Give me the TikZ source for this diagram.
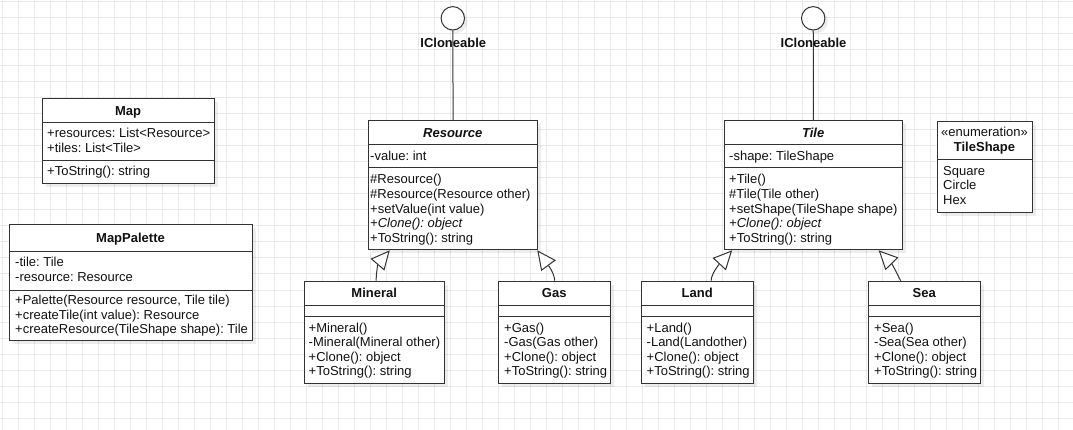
\documentclass[tikz,border=0pt]{standalone}
\usepackage{fontspec}
\setmainfont{Liberation Sans}
\usetikzlibrary{arrows.meta,shadows}
\definecolor{gridc}{HTML}{E9E9E9}
\definecolor{lc}{HTML}{333333}
\definecolor{tc}{HTML}{111111}
\newcommand\umlf{\fontsize{13pt}{15pt}\selectfont\frenchspacing}
\tikzset{
  cls/.style={draw=lc, line width=1pt, fill=white, anchor=north west, inner sep=0pt,
    drop shadow={shadow xshift=3.5pt, shadow yshift=-3.5pt, fill=black, opacity=0.07}},
  txt/.style={anchor=west, inner sep=0pt, text height=9.4pt, text depth=0pt, font=\umlf, text=tc},
  ttl/.style={inner sep=0pt, text height=9.4pt, text depth=0pt, font=\umlf\bfseries, text=tc},
  sep/.style={draw=lc, line width=1pt},
  gen/.style={draw=lc, line width=1pt, -{Triangle[fill=white, length=19pt, width=18pt]}},
  iface/.style={circle, draw=lc, line width=1pt, fill=white, minimum size=23.4pt, inner sep=0pt,
    drop shadow={shadow xshift=3pt, shadow yshift=-3pt, fill=black, opacity=0.07}},
  gridline/.style={draw=gridc, line width=1pt},
}
\begin{document}
\begin{tikzpicture}[x=1pt, y=-1pt]
\useasboundingbox (0,0) rectangle (1073,430);
\fill[white] (0,0) rectangle (1073,430);
% grid
\foreach \i in {0,...,66} \draw[gridline] (2+16*\i,0) -- (2+16*\i,430);
\foreach \j in {0,...,26} \draw[gridline] (0,2+16*\j) -- (1073,2+16*\j);

% ---------- Map ----------
\node[cls, minimum width=172pt, minimum height=85pt] (map) at (42,98) {};
\draw[sep] ([yshift=-25pt]map.north west) -- ([yshift=-25pt]map.north east);
\draw[sep] ([yshift=-63pt]map.north west) -- ([yshift=-63pt]map.north east);
\node[ttl] (mapT) at (128,110.7) {Map};
\node[txt] (mapA1) at (47,133.3) {+resources: List<Resource>};
\node[txt] (mapA2) at (47,148.3) {+tiles: List<Tile>};
\node[txt] (mapM1) at (47,171) {+ToString(): string};

% ---------- MapPalette ----------
\node[cls, minimum width=243pt, minimum height=116pt] (pal) at (9,224) {};
\draw[sep] ([yshift=-28pt]pal.north west) -- ([yshift=-28pt]pal.north east);
\draw[sep] ([yshift=-66pt]pal.north west) -- ([yshift=-66pt]pal.north east);
\node[ttl] (palT) at (130.5,238.3) {MapPalette};
\node[txt] (palA1) at (15,262.3) {-tile: Tile};
\node[txt] (palA2) at (15,276.7) {-resource: Resource};
\node[txt] (palM1) at (15,300) {+Palette(Resource resource, Tile tile)};
\node[txt] (palM2) at (15,314.3) {+createTile(int value): Resource};
\node[txt] (palM3) at (15,328.3) {+createResource(TileShape shape): Tile};

% ---------- Resource ----------
\node[cls, minimum width=169pt, minimum height=129.3pt] (resource) at (368.3,120) {};
\draw[sep] ([yshift=-24.3pt]resource.north west) -- ([yshift=-24.3pt]resource.north east);
\draw[sep] ([yshift=-47.7pt]resource.north west) -- ([yshift=-47.7pt]resource.north east);
\node[ttl] (resT) at (452.8,132.7) {\itshape Resource};
\node[txt] (resA1) at (370,155.7) {-value: int};
\node[txt] (resM1) at (370,179) {\#Resource()};
\node[txt] (resM2) at (370,194) {\#Resource(Resource other)};
\node[txt] (resM3) at (370,209) {+setValue(int value)};
\node[txt] (resM4) at (370,223.3) {\itshape +Clone(): object};
\node[txt] (resM5) at (370,238.3) {+ToString(): string};

% ---------- Tile ----------
\node[cls, minimum width=177.7pt, minimum height=129.3pt] (tile) at (724.3,120) {};
\draw[sep] ([yshift=-24.3pt]tile.north west) -- ([yshift=-24.3pt]tile.north east);
\draw[sep] ([yshift=-47.7pt]tile.north west) -- ([yshift=-47.7pt]tile.north east);
\node[ttl] (tilT) at (813.2,132.7) {\itshape Tile};
\node[txt] (tilA1) at (729,155.7) {-shape: TileShape};
\node[txt] (tilM1) at (729,179) {+Tile()};
\node[txt] (tilM2) at (729,194) {\#Tile(Tile other)};
\node[txt] (tilM3) at (729,209) {+setShape(TileShape shape)};
\node[txt] (tilM4) at (729,223.3) {\itshape +Clone(): object};
\node[txt] (tilM5) at (729,238.3) {+ToString(): string};

% ---------- TileShape ----------
\node[cls, minimum width=94.4pt, minimum height=91pt] (shape) at (937.3,120.7) {};
\draw[sep] ([yshift=-38.6pt]shape.north west) -- ([yshift=-38.6pt]shape.north east);
\node[ttl, font=\umlf] (shpS) at (984.5,132.3) {«enumeration»};
\node[ttl] (shpT) at (984.5,147.3) {TileShape};
\node[txt] (shp1) at (943,171) {Square};
\node[txt] (shp2) at (943,185) {Circle};
\node[txt] (shp3) at (943,200) {Hex};

% ---------- Mineral ----------
\node[cls, minimum width=140.3pt, minimum height=102pt] (mineral) at (304,280.7) {};
\draw[sep] ([yshift=-25pt]mineral.north west) -- ([yshift=-25pt]mineral.north east);
\draw[sep] ([yshift=-35.3pt]mineral.north west) -- ([yshift=-35.3pt]mineral.north east);
\node[ttl] (minT) at (374.2,293.3) {Mineral};
\node[txt] (minM1) at (308.5,327.3) {+Mineral()};
\node[txt] (minM2) at (308.5,341.7) {-Mineral(Mineral other)};
\node[txt] (minM3) at (308.5,356.7) {+Clone(): object};
\node[txt] (minM4) at (308.5,371) {+ToString(): string};

% ---------- Gas ----------
\node[cls, minimum width=111.7pt, minimum height=102pt] (gas) at (498.3,280.7) {};
\draw[sep] ([yshift=-25pt]gas.north west) -- ([yshift=-25pt]gas.north east);
\draw[sep] ([yshift=-35.3pt]gas.north west) -- ([yshift=-35.3pt]gas.north east);
\node[ttl] (gasT) at (554.2,293.3) {Gas};
\node[txt] (gasM1) at (504,327.3) {+Gas()};
\node[txt] (gasM2) at (504,341.7) {-Gas(Gas other)};
\node[txt] (gasM3) at (504,356.7) {+Clone(): object};
\node[txt] (gasM4) at (504,371) {+ToString(): string};

% ---------- Land ----------
\node[cls, minimum width=112.3pt, minimum height=102pt] (land) at (641,280.7) {};
\draw[sep] ([yshift=-25pt]land.north west) -- ([yshift=-25pt]land.north east);
\draw[sep] ([yshift=-35.3pt]land.north west) -- ([yshift=-35.3pt]land.north east);
\node[ttl] (lanT) at (697.2,293.3) {Land};
\node[txt] (lanM1) at (646.5,327.3) {+Land()};
\node[txt] (lanM2) at (646.5,341.7) {-Land(Landother)};
\node[txt] (lanM3) at (646.5,356.7) {+Clone(): object};
\node[txt] (lanM4) at (646.5,371) {+ToString(): string};

% ---------- Sea ----------
\node[cls, minimum width=111.7pt, minimum height=102pt] (sea) at (868.3,280.7) {};
\draw[sep] ([yshift=-25pt]sea.north west) -- ([yshift=-25pt]sea.north east);
\draw[sep] ([yshift=-35.3pt]sea.north west) -- ([yshift=-35.3pt]sea.north east);
\node[ttl] (seaT) at (924.2,293.3) {Sea};
\node[txt] (seaM1) at (874,327.3) {+Sea()};
\node[txt] (seaM2) at (874,341.7) {-Sea(Sea other)};
\node[txt] (seaM3) at (874,356.7) {+Clone(): object};
\node[txt] (seaM4) at (874,371) {+ToString(): string};

% ---------- Interfaces ----------
\node[iface] (ic1) at (452.8,18.3) {};
\node[iface] (ic2) at (813.2,18.3) {};
\draw[sep] (ic1) -- (resource);
\draw[sep] (ic2) -- (tile);
\node[ttl] (ic1L) at (453.3,42.7) {ICloneable};
\node[ttl] (ic2L) at (813.5,42.7) {ICloneable};

% ---------- Generalizations ----------
\draw[gen] ([xshift=1.5pt]mineral.north) .. controls +(0,-7) and +(-12,14) .. ([xshift=-63.5pt]resource.south);
\draw[gen] (gas.north) .. controls +(0,-7) and +(11,15) .. ([xshift=84pt]resource.south);
\draw[gen] ([xshift=13.5pt]land.north) .. controls +(0,-7) and +(-13,14) .. ([xshift=-81.5pt]tile.south);
\draw[gen] ([xshift=-24pt]sea.north) .. controls +(-3,-6) and +(13.7,14) .. ([xshift=65pt]tile.south);
\end{tikzpicture}
\end{document}
